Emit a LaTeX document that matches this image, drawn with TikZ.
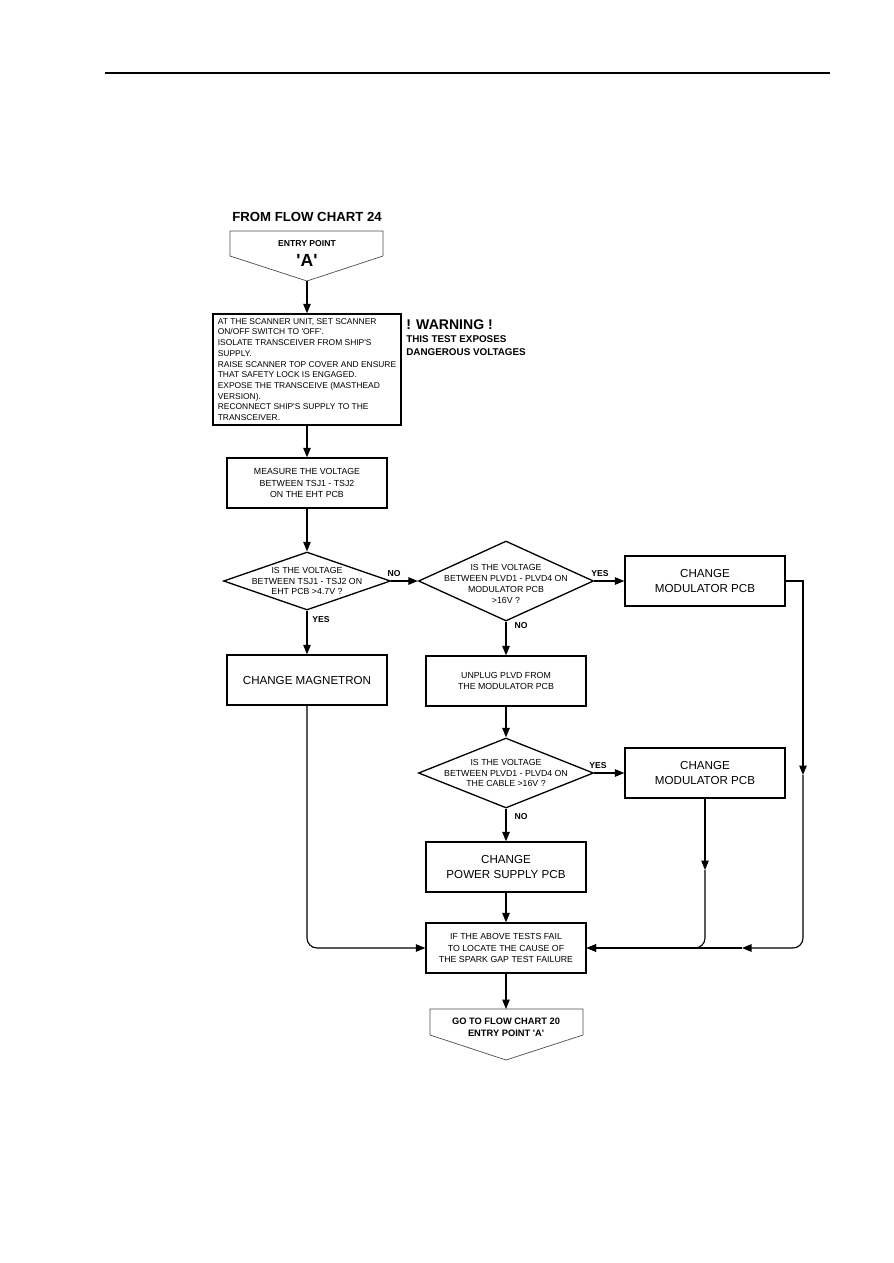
\documentclass[tikz,border=0pt]{standalone}
\usepackage{fontspec}
\setmainfont{Liberation Sans}
\usetikzlibrary{arrows.meta, positioning, shapes.geometric}
\newcommand{\sq}{\textquotesingle}
\tikzset{
	box/.style={rectangle, draw, line width=0.75pt, align=center, minimum width=32mm, minimum height=10mm, inner sep=0.5mm, font=\fontsize{6.6}{8.6}\selectfont},
	smallbox/.style={box, font=\fontsize{5}{6.4}\selectfont},
	notebox/.style={rectangle, draw, line width=0.75pt, align=left, minimum width=37.6mm, minimum height=22.2mm, inner sep=0.3mm, font=\fontsize{4.8}{6.1}\selectfont},
	decision/.style={diamond, draw, line width=0.75pt, inner sep=0pt},
	qtext/.style={align=center, inner sep=0pt, font=\fontsize{5}{6.1}\selectfont},
	lbl/.style={inner sep=0pt, font=\bfseries\fontsize{4.9}{6}\selectfont},
	title/.style={inner sep=0pt, align=center, font=\bfseries\fontsize{7.5}{9}\selectfont},
	tag/.style={draw=black!70, line width=0.4pt},
	arrow/.style={-{Triangle[length=1.9mm, width=1.5mm]}, line width=0.65pt},
	bus/.style={arrow, rounded corners=2mm},
}
\begin{document}
\begin{tikzpicture}[x=0.2mm, y=-0.2mm]
		\useasboundingbox (0,0) rectangle (893,1263);
		\draw[line width=0.7pt] (105,73) -- (830,73);
		% entry point
		\node[title] (from) at (307,217) {FROM FLOW CHART 24};
		\draw[tag] (230,231) -- (383,231) -- (383,256) -- (307,281) -- (230,256) -- cycle;
		\coordinate (entrytip) at (307,281);
		\node[inner sep=0pt, font=\bfseries\fontsize{4.9}{6}\selectfont] (entry) at (307,244) {ENTRY POINT};
		\node[inner sep=0pt, font=\bfseries\fontsize{10}{12}\selectfont] (entrya) at (307,260) {\sq A\sq};
		% preparation
		\node[notebox] (prep) at (307,369.5) {AT THE SCANNER UNIT, SET SCANNER\\ON/OFF SWITCH TO \sq OFF\sq.\\ISOLATE TRANSCEIVER FROM SHIP\sq S\\SUPPLY.\\RAISE SCANNER TOP COVER AND ENSURE\\THAT SAFETY LOCK IS ENGAGED.\\EXPOSE THE TRANSCEIVE (MASTHEAD\\VERSION).\\RECONNECT SHIP\sq S SUPPLY TO THE\\TRANSCEIVER.};
		\node[inner sep=0pt, anchor=west, font=\bfseries\fontsize{8}{9}\selectfont] (warn) at (406,325) {! WARNING !};
		\node[inner sep=0pt, anchor=north west, align=left, font=\bfseries\fontsize{5.6}{7.4}\selectfont] (warntext) at (406,335) {THIS TEST EXPOSES\\DANGEROUS VOLTAGES};
		\node[smallbox] (measure) at (307,483) {MEASURE THE VOLTAGE\\BETWEEN TSJ1 - TSJ2\\ON THE EHT PCB};
		% decisions
		\node[decision, minimum width=33.4mm, minimum height=11.6mm] (tsj) at (307,581) {};
		\node[qtext] (tsjq) at (tsj) {IS THE VOLTAGE\\BETWEEN TSJ1 - TSJ2 ON\\EHT PCB >4.7V ?};
		\node[decision, minimum width=35mm, minimum height=16mm] (plvd) at (506,581) {};
		\node[qtext] (plvdq) at (506,584) {IS THE VOLTAGE\\BETWEEN PLVD1 - PLVD4 ON\\MODULATOR PCB\\>16V ?};
		\node[box] (modone) at (705,581) {CHANGE\\MODULATOR PCB};
		\node[box] (magnet) at (307,680) {CHANGE MAGNETRON};
		\node[smallbox] (unplug) at (506,681) {UNPLUG PLVD FROM\\THE MODULATOR PCB};
		\node[decision, minimum width=35mm, minimum height=14mm] (cable) at (506,773) {};
		\node[qtext] (cableq) at (cable) {IS THE VOLTAGE\\BETWEEN PLVD1 - PLVD4 ON\\THE CABLE >16V ?};
		\node[box] (modtwo) at (705,773) {CHANGE\\MODULATOR PCB};
		\node[box] (power) at (506,867) {CHANGE\\POWER SUPPLY PCB};
		\node[smallbox] (fail) at (506,948) {IF THE ABOVE TESTS FAIL\\TO LOCATE THE CAUSE OF\\THE SPARK GAP TEST FAILURE};
		% exit point
		\draw[tag] (430,1009) -- (583,1009) -- (583,1035) -- (506,1060) -- (430,1035) -- cycle;
		\coordinate (exittop) at (506,1009);
		\node[inner sep=0pt, align=center, font=\bfseries\fontsize{5.3}{6.6}\selectfont] (exit) at (506,1027) {GO TO FLOW CHART 20\\ENTRY POINT \sq A\sq};
		% labels
		\node[lbl] (tsjno) at (394,574) {NO};
		\node[lbl] (tsjyes) at (321,620) {YES};
		\node[lbl] (plvdyes) at (600,574) {YES};
		\node[lbl] (plvdno) at (521,626) {NO};
		\node[lbl] (cableyes) at (598,766) {YES};
		\node[lbl] (cableno) at (521,817) {NO};
		% bus points
		\coordinate (rightbus) at (803,775);
		\coordinate (rightjoin) at (742,948);
		\coordinate (modbus) at (705,870);
		\draw[arrow] (entrytip) -- (prep);
		\draw[arrow] (prep) -- (measure);
		\draw[arrow] (measure) -- (tsj);
		\draw[arrow] (tsj) -- (plvd);
		\draw[arrow] (plvd) -- (modone);
		\draw[arrow] (tsj) -- (magnet);
		\draw[arrow] (plvd) -- (unplug);
		\draw[arrow] (unplug) -- (cable);
		\draw[arrow] (cable) -- (modtwo);
		\draw[arrow] (cable) -- (power);
		\draw[arrow] (power) -- (fail);
		\draw[arrow] (fail) -- (exittop);
		\draw[bus] (magnet) |- (fail);
		\draw[arrow] (modone) -| (rightbus);
		\draw[bus] (rightbus) |- (rightjoin);
		\draw[arrow] (rightjoin) -- (fail);
		\draw[arrow] (modtwo) -- (modbus);
		\draw[bus] (modbus) |- (fail);
	\end{tikzpicture}
\end{document}
